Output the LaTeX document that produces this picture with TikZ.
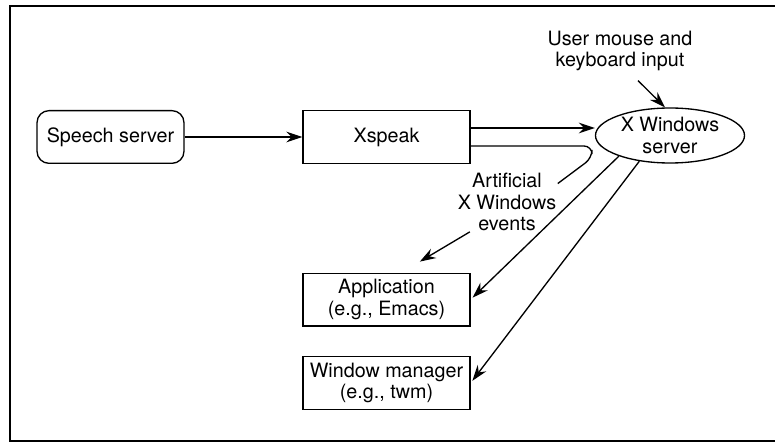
\documentclass[tikz,border=0pt]{standalone}
\usepackage{fontspec}
\setmainfont{TeX Gyre Heros}
\usetikzlibrary{positioning, calc, shapes.geometric, arrows.meta}

\tikzset{
  box/.style={draw, line width=1pt, minimum width=125.25pt, minimum height=39.5pt, align=center, inner sep=1pt},
  roundbox/.style={box, rounded corners=9pt, minimum width=110.25pt},
  label/.style={align=center, inner sep=1pt},
  arrow/.style={-{Stealth[length=12pt, width=8pt, inset=4pt]}, line width=1pt},
}

\begin{document}
\begin{tikzpicture}[x=0.75pt, y=-0.75pt, font=\fontsize{14.8}{16}\selectfont]
      \useasboundingbox (0,0) rectangle (775,442);

      \draw[line width=2pt] (775,6) -- (10,6) -- (10,441) -- (775,441);   %frame

      \node[roundbox] (speech) at (110.5,137) {Speech server};
      \node[box] (xspeak) at (386.5,137) {Xspeak};
      \node[draw, ellipse, line width=1pt, minimum width=111.75pt, minimum height=41.25pt,
            inner sep=0pt, align=center] (xserver) at (670,135.5) {X Windows\\server};
      \node[label] (user) at (620,51) {User mouse and\\keyboard input};
      \node[label] (events) at (507,202) {Artificial\\X Windows\\events};
      \node[box] (app) at (386.5,299.5) {Application\\(e.g., Emacs)};
      \node[box] (wm) at (386.5,383) {Window manager\\(e.g., twm)};

      \coordinate (bend) at (592,146);

      \draw[arrow] (speech) -- (xspeak);
      \draw[arrow] ($ (xspeak.east) + (0,-9) $) -- ($ (xspeak.east -| xserver.west) + (0,-9) $);
      \draw[line width=1pt, rounded corners=6pt] ($ (xspeak.east) + (0,9) $) -- (bend) -- ($ (bend) + (0,12) $) -- (events.20);   %artificial events
      \draw[arrow, shorten <=35pt, shorten >=16pt] ($ (events.center) + (3,6) $) -- ($ (app.north) + (15,0) $);
      \draw[arrow] ($ (user.south) + (18,8) $) -- (xserver.100);
      \draw[arrow, shorten >=2pt] (xserver.202) -- (app.east);
      \draw[arrow, shorten >=2pt] (xserver.220) -- (wm.east);
    \end{tikzpicture}
\end{document}
